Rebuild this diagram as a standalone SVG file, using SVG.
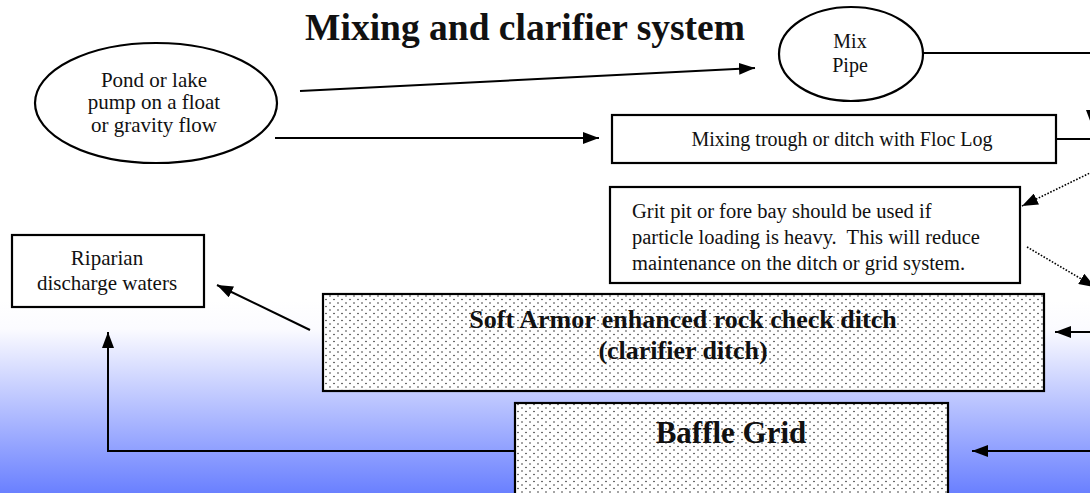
<svg xmlns="http://www.w3.org/2000/svg" width="1090" height="493" viewBox="0 0 1090 493">
<style>
text{font-family:"Liberation Serif","Times New Roman",serif;fill:#111}
.t{font-size:21px}
.b{font-weight:bold}
.box{fill:#fff;stroke:#000;stroke-width:2.2}
.dot{fill:url(#dots);stroke:#000;stroke-width:2.2}
.ln{fill:none;stroke:#000;stroke-width:2}
.dl{fill:none;stroke:#000;stroke-width:1.6;stroke-dasharray:1.6 1.6}
</style>
<defs>
<linearGradient id="bg" x1="0" y1="0" x2="0" y2="1">
<stop offset="0" stop-color="#ffffff"/>
<stop offset="0.15" stop-color="#fbfbff"/>
<stop offset="1" stop-color="#6a80ff"/>
</linearGradient>
<pattern id="dots" width="8" height="7" patternUnits="userSpaceOnUse">
<rect width="8" height="7" fill="#fff"/>
<circle cx="2" cy="2" r="0.8" fill="#333"/>
<circle cx="6" cy="5.5" r="0.8" fill="#333"/>
</pattern>
<marker id="ah" markerWidth="16" markerHeight="12" refX="16" refY="6" orient="auto" markerUnits="userSpaceOnUse">
<path d="M0,0 L16,6 L0,12 z" fill="#000"/>
</marker>
</defs>
<rect x="0" y="0" width="1090" height="493" fill="#fff"/>
<rect x="0" y="300" width="1090" height="193" fill="url(#bg)"/>

<text x="525" y="40" class="b" font-size="37.5" text-anchor="middle">Mixing and clarifier system</text>

<g id="connectors">
<line class="ln" x1="300" y1="91" x2="755" y2="68" marker-end="url(#ah)"/>
<line class="ln" x1="275" y1="138" x2="599" y2="138" marker-end="url(#ah)"/>
<line class="ln" x1="923" y1="53" x2="1092" y2="53"/>
<line class="ln" x1="1092" y1="53" x2="1092" y2="126" marker-end="url(#ah)"/>
<line class="ln" x1="1056" y1="139" x2="1092" y2="139"/>
<line class="dl" x1="1092" y1="172" x2="1022" y2="206" marker-end="url(#ah)"/>
<line class="dl" x1="1027" y1="247" x2="1095" y2="287" marker-end="url(#ah)"/>
<line class="ln" x1="1092" y1="332" x2="1055" y2="332" marker-end="url(#ah)"/>
<line class="ln" x1="310" y1="330" x2="217" y2="285" marker-end="url(#ah)"/>
<line class="ln" x1="1092" y1="451" x2="972" y2="451" marker-end="url(#ah)"/>
<polyline class="ln" points="515,451 108,451 108,332" marker-end="url(#ah)"/>
</g>

<g id="pond">
<ellipse class="box" cx="156" cy="103" rx="121" ry="60"/>
<text class="t" x="154" y="87" text-anchor="middle">Pond or lake</text>
<text class="t" x="154" y="109" text-anchor="middle">pump on a float</text>
<text class="t" x="154" y="132" text-anchor="middle">or gravity flow</text>
</g>

<g id="mixpipe">
<ellipse class="box" cx="851" cy="54" rx="72" ry="47"/>
<text x="850" y="48" font-size="20" text-anchor="middle">Mix</text>
<text x="850" y="72" font-size="20" text-anchor="middle">Pipe</text>
</g>

<g id="trough">
<rect class="box" x="612" y="115" width="444" height="48"/>
<text x="842" y="146" font-size="20" text-anchor="middle">Mixing trough or ditch with Floc Log</text>
</g>

<g id="grit">
<rect class="box" x="610" y="187" width="410" height="96"/>
<text x="632" y="218" font-size="20.5">Grit pit or fore bay should be used if</text>
<text x="632" y="244" font-size="20.5" xml:space="preserve" style="white-space:pre">particle loading is heavy.  This will reduce</text>
<text x="632" y="270" font-size="20.5">maintenance on the ditch or grid system.</text>
</g>

<g id="riparian">
<rect class="box" x="12" y="235" width="192" height="72"/>
<text class="t" x="107" y="265" text-anchor="middle">Riparian</text>
<text class="t" x="107" y="290" text-anchor="middle">discharge waters</text>
</g>

<g id="softarmor">
<rect class="dot" x="323" y="294" width="721" height="97"/>
<text class="b" x="683" y="328" font-size="26" text-anchor="middle">Soft Armor enhanced rock check ditch</text>
<text class="b" x="683" y="359" font-size="26" text-anchor="middle">(clarifier ditch)</text>
</g>

<g id="bafflegrid">
<rect class="dot" x="515" y="403" width="433" height="100"/>
<text class="b" x="731" y="443" font-size="31" text-anchor="middle">Baffle Grid</text>
</g>
</svg>
